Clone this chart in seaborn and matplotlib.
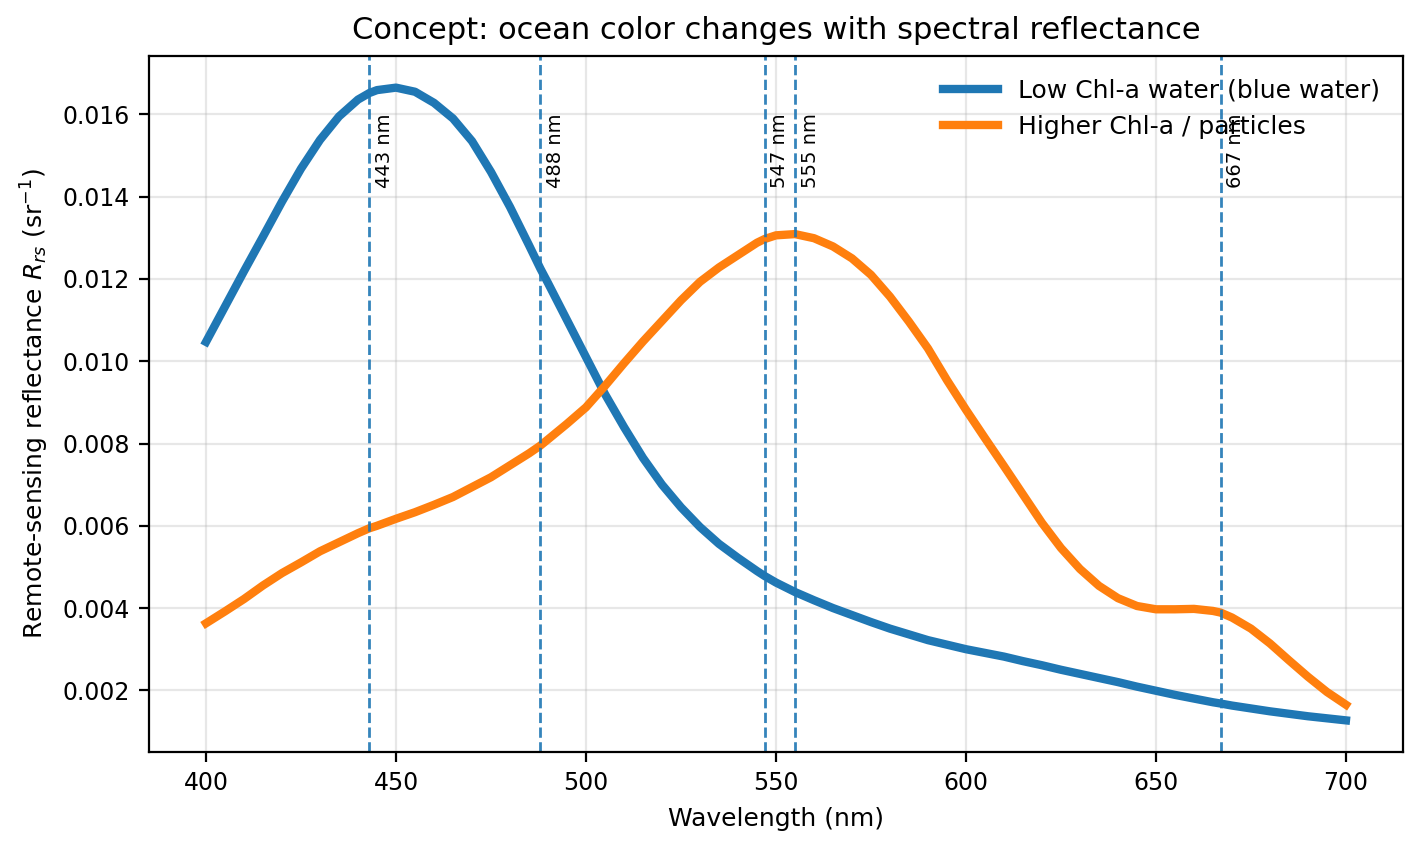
import pandas as pd
import seaborn as sns
import matplotlib.pyplot as plt

wavelength = [400, 405, 410, 415, 420, 425, 430, 435, 440, 443, 445, 450, 455, 460,
              465, 470, 475, 480, 485, 488, 490, 495, 500, 505, 510, 515, 520, 525,
              530, 535, 540, 545, 547, 550, 555, 560, 565, 570, 575, 580, 585, 590,
              595, 600, 605, 610, 615, 620, 625, 630, 635, 640, 645, 650, 655, 660,
              665, 667, 670, 675, 680, 685, 690, 695, 700]

rrs_low = [0.01047, 0.01133, 0.01219, 0.01303, 0.01388, 0.01468, 0.01538, 0.01595,
           0.01636, 0.01652, 0.01659, 0.01665, 0.01655, 0.01628, 0.01590, 0.01535,
           0.01460, 0.01375, 0.01282, 0.01225, 0.01190, 0.01100, 0.01010, 0.00920,
           0.00840, 0.00765, 0.00700, 0.00645, 0.00597, 0.00556, 0.00522, 0.00490,
           0.00478, 0.00462, 0.00439, 0.00419, 0.00400, 0.00383, 0.00366, 0.00350,
           0.00336, 0.00322, 0.00311, 0.00300, 0.00291, 0.00282, 0.00271, 0.00261,
           0.00250, 0.00240, 0.00230, 0.00220, 0.00209, 0.00199, 0.00189, 0.00180,
           0.00171, 0.00168, 0.00163, 0.00156, 0.00149, 0.00143, 0.00137, 0.00132,
           0.00127]

rrs_high = [0.00363, 0.00392, 0.00422, 0.00455, 0.00485, 0.00511, 0.00538, 0.00560,
            0.00582, 0.00594, 0.00600, 0.00617, 0.00633, 0.00651, 0.00670, 0.00694,
            0.00718, 0.00747, 0.00776, 0.00795, 0.00810, 0.00848, 0.00888, 0.00940,
            0.00995, 0.01048, 0.01098, 0.01148, 0.01193, 0.01228, 0.01258, 0.01288,
            0.01297, 0.01306, 0.01309, 0.01299, 0.01279, 0.01250, 0.01210, 0.01157,
            0.01096, 0.01031, 0.00954, 0.00882, 0.00813, 0.00745, 0.00676, 0.00607,
            0.00546, 0.00495, 0.00454, 0.00424, 0.00405, 0.00397, 0.00397, 0.00398,
            0.00393, 0.00389, 0.00377, 0.00350, 0.00314, 0.00273, 0.00233, 0.00196,
            0.00165]

series_labels = ["Low Chl-a water (blue water)", "Higher Chl-a / particles"]
bands = [443, 488, 547, 555, 667]

df = pd.DataFrame({"wavelength": wavelength, "low": rrs_low, "high": rrs_high})

fig, ax = plt.subplots(figsize=(7.11, 4.23), dpi=200)

sns.lineplot(data=df, x="wavelength", y="low", ax=ax, color="tab:blue",
             linewidth=3, label=series_labels[0])
sns.lineplot(data=df, x="wavelength", y="high", ax=ax, color="tab:orange",
             linewidth=3, label=series_labels[1])

for b in bands:
    ax.axvline(b, color="tab:blue", linestyle="--", linewidth=1, alpha=0.9)
    ax.text(b + 1.5, 0.01602, f"{b} nm", rotation=90, va="top", ha="left",
            fontsize=7)

ax.set_title("Concept: ocean color changes with spectral reflectance", fontsize=11)
ax.set_xlabel("Wavelength (nm)", fontsize=9)
ax.set_ylabel("Remote-sensing reflectance $R_{rs}$ (sr$^{-1}$)", fontsize=9)
ax.tick_params(labelsize=8.5)
ax.grid(True, alpha=0.3)
ax.legend(frameon=False, loc="upper right", fontsize=9, handlelength=2.2)

fig.subplots_adjust(left=0.1048, right=0.9866, top=0.9338, bottom=0.1111)
fig.savefig("out.png", dpi=200)
